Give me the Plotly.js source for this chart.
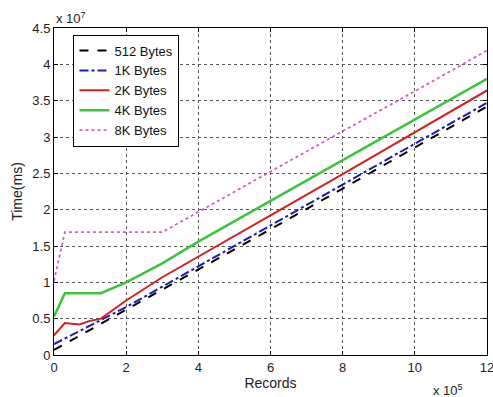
<!DOCTYPE html>
<html><head><meta charset="utf-8">
<script src="https://cdn.plot.ly/plotly-3.0.1.min.js"></script>
<style>html,body{margin:0;padding:0;background:#fff}#c{width:493px;height:397px}</style>
</head><body><div id="c"></div>
<script>
// Records in units of 1e5, Time in units of 1e7 ms
const rec512 = [0, 2, 4, 6, 8, 10, 12];
const t512   = [0.07, 0.62, 1.17, 1.73, 2.29, 2.85, 3.42];
const rec1K  = [0, 2, 4, 6, 8, 10, 12];
const t1K    = [0.15, 0.66, 1.22, 1.78, 2.34, 2.91, 3.47];
const rec2K  = [0, 0.3, 0.7, 1.0, 1.3, 2, 3, 4, 6, 8, 10, 12];
const t2K    = [0.27, 0.44, 0.42, 0.47, 0.5, 0.75, 1.07, 1.35, 1.92, 2.49, 3.07, 3.64];
const rec4K  = [0, 0.3, 1.3, 2, 3, 4, 6, 8, 10, 12];
const t4K    = [0.53, 0.85, 0.85, 1.0, 1.26, 1.56, 2.12, 2.68, 3.24, 3.8];
const rec8K  = [0, 0.3, 3.0, 4, 6, 8, 10, 12];
const t8K    = [1.02, 1.69, 1.69, 1.97, 2.52, 3.08, 3.63, 4.19];
const xTicks = [0, 2, 4, 6, 8, 10, 12];
const yTicks = [0, 0.5, 1, 1.5, 2, 2.5, 3, 3.5, 4, 4.5];

const traces = [
  {x: rec512, y: t512, name: '512 Bytes', mode: 'lines', line: {color: '#000000', width: 2, dash: 'dash'}},
  {x: rec1K, y: t1K, name: '1K Bytes', mode: 'lines', line: {color: '#1c1ca8', width: 2, dash: 'dashdot'}},
  {x: rec2K, y: t2K, name: '2K Bytes', mode: 'lines', line: {color: '#d42020', width: 2}},
  {x: rec4K, y: t4K, name: '4K Bytes', mode: 'lines', line: {color: '#3cc43c', width: 2.5}},
  {x: rec8K, y: t8K, name: '8K Bytes', mode: 'lines', line: {color: '#d060c0', width: 1.8, dash: 'dot'}}
];

const FONT = 'Liberation Sans, Arial, sans-serif';
const axisCommon = {
  showline: true, mirror: 'ticks', linecolor: '#000', linewidth: 1,
  ticks: 'inside', ticklen: 4, tickcolor: '#000', ticklabeloverflow: 'allow',
  showgrid: true, gridcolor: '#555', gridwidth: 1, griddash: 'dot',
  zeroline: false, tickfont: {family: FONT, size: 13, color: '#222'}
};

const layout = {
  width: 493, height: 397,
  margin: {l: 54, r: 6, t: 28, b: 42},
  paper_bgcolor: '#ffffff', plot_bgcolor: '#ffffff',
  showlegend: true,
  legend: {x: 0.045, y: 0.98, xanchor: 'left', yanchor: 'top',
    bgcolor: '#ffffff', bordercolor: '#000', borderwidth: 1,
    font: {family: FONT, size: 13, color: '#111'},
    tracegroupgap: 0, itemwidth: 30},
  xaxis: Object.assign({}, axisCommon, {range: [0, 12], tickvals: xTicks, ticktext: xTicks.map(String),
    title: {text: 'Records', font: {family: FONT, size: 14, color: '#222'}, standoff: 4}}),
  yaxis: Object.assign({}, axisCommon, {range: [0, 4.5], tickvals: yTicks, ticktext: yTicks.map(String),
    title: {text: 'Time(ms)', font: {family: FONT, size: 14, color: '#222'}, standoff: 6}}),
  annotations: [
    {xref: 'paper', yref: 'paper', x: 0.0, y: 1.0, xanchor: 'left', yanchor: 'bottom', showarrow: false,
     text: 'x 10<sup>7</sup>', font: {family: FONT, size: 13, color: '#222'}},
    {xref: 'paper', yref: 'paper', x: 0.95, y: -0.075, xanchor: 'right', yanchor: 'top', showarrow: false,
     text: 'x 10<sup>5</sup>', font: {family: FONT, size: 13, color: '#222'}}
  ]
};

Plotly.newPlot('c', traces, layout, {displayModeBar: false, staticPlot: true});
</script>
</body></html>
